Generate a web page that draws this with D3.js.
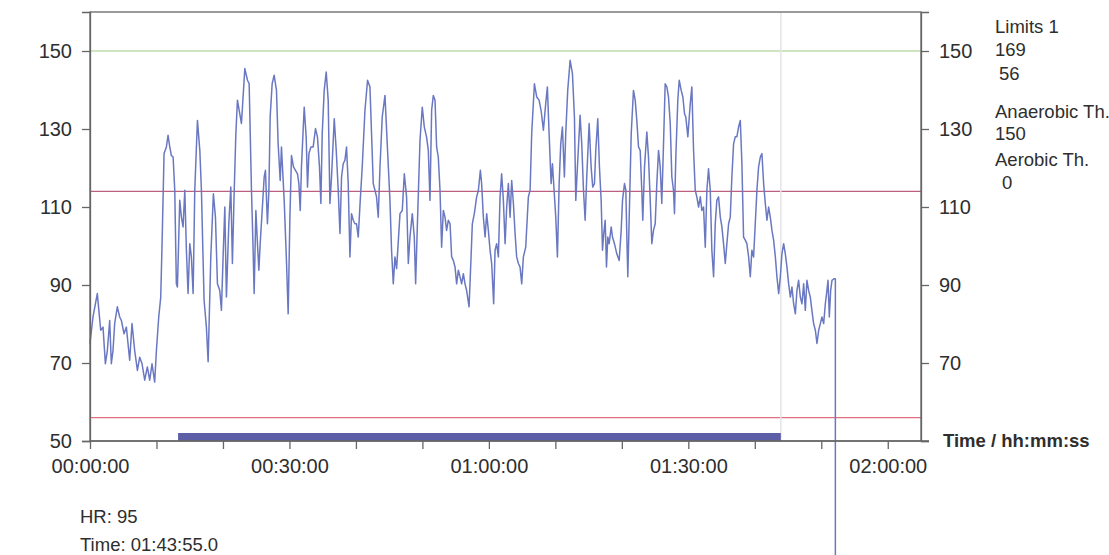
<!DOCTYPE html>
<html>
<head>
<meta charset="utf-8">
<script src="https://cdn.jsdelivr.net/npm/d3@7/dist/d3.min.js"></script>
<style>
  html, body { margin: 0; padding: 0; background: #ffffff; }
  svg { display: block; }
  text { font-family: "Liberation Sans", Arial, sans-serif; fill: #2e2e2e; }
</style>
</head>
<body>
<svg id="chart" width="1109" height="555"></svg>
<script>
// Heart-rate recording: elapsed time (minutes) and heart rate (bpm)
const minutes = [
  0.00,0.45,1.10,1.61,1.96,2.31,2.61,2.96,3.21,3.46,3.71,4.11,4.47,4.72,5.12,5.47,5.97,6.32,6.72,7.13,
  7.48,7.83,8.23,8.63,8.98,9.33,9.73,9.99,10.34,10.64,10.84,11.14,11.49,11.74,12.00,12.24,12.50,12.75,12.99,13.15,
  13.50,13.75,14.00,14.26,14.50,14.75,15.01,15.25,15.51,15.76,16.16,16.52,16.76,17.16,17.51,17.77,18.17,18.56,18.87,19.17,
  19.52,19.77,20.02,20.28,20.52,20.88,21.18,21.42,21.68,21.94,22.18,22.78,23.29,23.69,23.94,24.29,24.54,24.69,24.95,25.19,
  25.40,25.60,25.90,26.20,26.39,26.69,26.91,27.10,27.40,27.70,28.05,28.30,28.61,28.80,29.21,29.55,29.81,30.07,30.31,30.61,
  30.91,31.21,31.42,31.62,31.81,32.22,32.52,32.72,32.93,33.23,33.57,33.92,34.22,34.52,34.73,34.93,35.23,35.53,35.83,36.09,
  36.33,36.74,37.04,37.34,37.60,37.84,38.09,38.35,38.59,38.84,39.10,39.34,39.60,39.85,40.09,40.35,40.65,40.95,41.36,41.75,
  42.11,42.35,42.61,42.86,43.10,43.36,43.62,43.96,44.37,44.76,45.12,45.36,45.62,45.87,46.12,46.63,46.97,47.28,47.62,47.88,
  48.13,48.48,48.78,48.98,49.28,49.64,49.98,50.29,50.63,50.89,51.14,51.39,51.64,51.90,52.14,52.39,52.65,52.89,53.15,53.40,
  53.64,53.90,54.16,54.40,54.65,54.91,55.15,55.41,55.66,55.90,56.16,56.41,56.65,57.02,57.32,57.51,57.81,58.16,58.42,58.72,
  58.91,59.17,59.43,59.67,59.92,60.18,60.42,60.72,60.93,61.17,61.43,61.68,61.92,62.18,62.44,62.68,62.93,63.19,63.43,63.69,
  63.94,64.18,64.44,64.69,64.94,65.19,65.54,65.94,66.20,66.44,66.85,67.20,67.55,67.85,68.20,68.55,68.80,69.06,69.36,69.56,
  69.81,70.06,70.31,70.57,70.81,71.06,71.36,71.56,71.86,72.22,72.57,72.87,73.07,73.37,73.72,73.97,74.23,74.48,74.72,75.08,
  75.38,75.62,75.88,76.08,76.38,76.63,76.89,77.09,77.28,77.49,77.69,77.89,78.09,78.40,78.59,78.89,79.24,79.60,79.90,80.10,
  80.40,80.60,80.80,80.90,81.11,81.41,81.75,82.01,82.25,82.51,82.76,83.00,83.15,83.41,83.76,84.01,84.27,84.51,84.76,85.02,
  85.26,85.52,85.77,86.01,86.27,86.52,86.77,87.02,87.28,87.52,87.77,87.92,88.12,88.42,88.63,88.93,89.18,89.43,89.62,89.93,
  90.29,90.53,90.79,91.04,91.28,91.54,91.80,92.04,92.29,92.55,92.79,93.04,93.30,93.54,93.80,94.05,94.29,94.55,94.81,95.05,
  95.30,95.56,95.80,96.06,96.31,96.55,96.81,97.06,97.30,97.56,97.82,98.06,98.31,98.57,98.81,99.07,99.32,99.56,99.82,100.07,
  100.32,100.57,100.83,101.07,101.33,101.58,101.83,102.08,102.33,102.58,102.83,103.09,103.33,103.59,103.84,104.08,104.34,104.59,104.84,105.09,
  105.35,105.59,105.84,106.10,106.34,106.59,106.85,107.09,107.35,107.60,107.84,108.10,108.35,108.59,108.85,109.11,109.35,109.61,109.86,110.10,
  110.36,110.61,110.85,111.01,111.21,111.41,111.61,111.91,112.12,112.12
];
const hr = [
  75.0,81.8,87.8,78.4,79.2,69.8,73.2,80.9,69.8,73.2,80.1,84.4,81.8,80.9,77.5,79.2,70.7,80.1,73.2,68.1,
  71.5,69.8,65.6,69.0,65.6,69.8,65.1,73.2,81.8,86.9,100.6,123.7,125.4,128.4,125.4,123.2,122.8,114.3,90.3,89.5,
  111.7,107.4,104.9,114.3,98.9,87.8,100.6,97.2,87.8,114.3,132.2,124.5,114.3,86.1,79.2,70.3,97.2,113.4,107.4,90.3,
  88.6,83.5,97.2,110.0,86.9,105.7,115.1,95.5,113.4,128.8,137.4,131.4,145.5,142.5,141.6,114.3,98.9,87.8,109.1,100.6,
  93.8,100.6,109.1,117.7,119.4,105.7,114.3,133.1,141.6,143.8,139.9,126.2,116.8,125.4,111.7,96.3,82.6,107.4,123.2,120.3,
  119.4,118.5,116.0,109.1,120.3,135.6,127.9,115.1,123.7,125.4,125.4,130.1,127.9,120.3,110.9,128.8,139.9,144.6,137.4,110.9,
  117.7,132.6,124.5,114.3,103.2,117.7,121.1,122.0,125.4,116.0,97.2,108.3,106.6,105.7,105.7,102.3,111.7,120.3,134.8,142.5,
  140.8,128.8,116.0,114.3,112.6,107.4,120.3,133.1,138.6,124.5,111.7,98.9,90.3,97.2,94.2,108.3,109.1,118.5,112.6,95.5,
  102.3,108.3,102.3,90.3,107.4,127.1,135.6,130.5,127.9,124.5,111.7,134.8,138.6,137.4,125.4,122.8,114.3,99.7,109.1,107.4,
  104.0,106.6,105.7,97.2,96.3,94.6,90.3,93.8,92.1,90.3,92.9,90.3,88.6,84.4,97.2,105.7,108.3,112.6,114.3,119.4,
  116.0,107.4,102.3,108.3,104.0,98.9,95.5,85.2,98.9,100.6,97.2,112.6,118.5,111.7,100.6,110.0,116.0,107.4,116.8,110.9,
  103.2,97.2,95.5,94.6,90.3,97.2,99.7,112.6,114.3,128.8,141.6,138.2,137.4,134.8,129.7,136.5,140.8,128.8,116.0,121.1,
  114.3,107.4,97.2,116.0,126.2,130.5,117.7,128.8,139.9,147.6,144.2,133.1,111.7,122.0,133.5,126.2,114.3,106.6,117.7,131.4,
  120.3,115.1,116.0,124.5,132.6,120.3,111.7,98.9,103.2,106.6,94.6,102.3,100.6,104.9,102.3,100.6,98.0,96.3,104.0,111.7,
  116.0,114.3,98.9,92.1,107.4,128.8,139.9,137.4,132.2,125.4,124.5,114.3,106.6,120.3,129.2,122.8,111.7,100.6,104.0,105.7,
  116.0,124.5,120.3,110.9,126.2,141.6,140.8,138.2,131.4,117.7,114.3,108.3,122.8,137.4,142.5,139.9,138.2,133.9,133.1,128.0,
  136.5,140.8,124.5,114.3,112.6,110.0,112.6,109.1,110.0,99.7,114.3,119.8,114.3,98.9,92.1,105.7,111.7,112.6,107.4,104.9,
  100.6,95.5,100.6,105.7,107.4,117.7,126.2,128.0,128.0,130.5,132.2,121.1,102.3,101.5,100.6,97.2,92.1,98.9,97.2,105.7,
  114.3,120.3,122.8,123.7,116.0,110.9,106.6,110.0,107.4,104.0,101.5,97.2,92.1,87.8,92.1,98.0,100.6,98.0,94.6,90.3,
  86.9,89.5,85.2,82.6,88.6,91.2,86.9,85.2,90.3,83.5,91.2,88.6,86.9,83.5,80.1,78.4,75.0,78.4,80.1,81.8,
  80.1,85.2,88.6,91.2,81.8,88.6,91.2,91.6,91.6,0
];

// Axis ticks and reference levels
const yTicks = [50, 70, 90, 110, 130, 150];
const xTickMinutes = [0, 10, 20, 30, 40, 50, 60, 70, 80, 90, 100, 110, 120];
const xLabelMinutes = [0, 30, 60, 90, 120];
const anaerobicLevel = 150;
const upperLimit = 114;
const lowerLimit = 56;
const markerStart = 13.25;             // start of the selected range, minutes
const cursorSeconds = 1 * 3600 + 43 * 60 + 55; // 01:43:55.0
const cursorHR = 95;
const sideLabels = [
  {text: "Limits 1", dx: 0, row: 0},
  {text: "169", dx: 0, row: 1},
  {text: "56", dx: 4, row: 2},
  {text: "Anaerobic Th.", dx: 0, row: 3},
  {text: "150", dx: 0, row: 4},
  {text: "Aerobic Th.", dx: 0, row: 5},
  {text: "0", dx: 7, row: 6}
];
const sideRowBaselines = [33, 56, 80, 118, 140, 166, 189];

const svg = d3.select("#chart");
const plotL = 90, plotR = 921, plotT = 12, plotB = 441;
const cursorMinutes = cursorSeconds / 60;

const x = d3.scaleLinear().domain([0, 125]).range([plotL, plotR]);
const y = d3.scaleLinear().domain([50, 160]).range([plotB, plotT]);

const pad2 = v => String(v).padStart(2, "0");
const fmtSec = s => {
  const h = Math.floor(s / 3600), mm = Math.floor((s % 3600) / 60), ss = Math.round(s % 60);
  return `${pad2(h)}:${pad2(mm)}:${pad2(ss)}`;
};

// Reference levels
svg.append("line").attr("x1", plotL).attr("x2", plotR)
  .attr("y1", y(anaerobicLevel)).attr("y2", y(anaerobicLevel))
  .attr("stroke", "#bfdcaa").attr("stroke-width", 1.3);
svg.append("line").attr("x1", plotL).attr("x2", plotR)
  .attr("y1", y(upperLimit)).attr("y2", y(upperLimit))
  .attr("stroke", "#bd5f80").attr("stroke-width", 1.3);
svg.append("line").attr("x1", plotL).attr("x2", plotR)
  .attr("y1", y(lowerLimit)).attr("y2", y(lowerLimit))
  .attr("stroke", "#e0707e").attr("stroke-width", 1.3);

// Cursor line
svg.append("line").attr("x1", x(cursorMinutes)).attr("x2", x(cursorMinutes))
  .attr("y1", plotT).attr("y2", plotB)
  .attr("stroke", "#e4e4ea").attr("stroke-width", 1.5);

// Selected range bar along the time axis
svg.append("rect")
  .attr("x", x(markerStart)).attr("y", plotB - 8)
  .attr("width", x(cursorMinutes) - x(markerStart)).attr("height", 8)
  .attr("fill", "#5c5ea8");

// Heart-rate trace
const pts = minutes.map((m, i) => [m, hr[i]]);
svg.append("path")
  .datum(pts)
  .attr("fill", "none")
  .attr("stroke", "#6a78c2")
  .attr("stroke-width", 1.5)
  .attr("stroke-linejoin", "round")
  .attr("d", d3.line().x(d => x(d[0])).y(d => y(d[1])));

// Frame
svg.append("rect").attr("x", plotL).attr("y", plotT)
  .attr("width", plotR - plotL).attr("height", plotB - plotT)
  .attr("fill", "none").attr("stroke", "#666").attr("stroke-width", 1.3);

// Left axis
const yl = svg.append("g").attr("transform", `translate(${plotL},0)`)
  .call(d3.axisLeft(y).tickValues(yTicks).tickSize(8).tickPadding(10));
// Right axis
const yr = svg.append("g").attr("transform", `translate(${plotR},0)`)
  .call(d3.axisRight(y).tickValues(yTicks).tickSize(8).tickPadding(10)
    .tickFormat(d => d === 50 ? "" : d));
// Bottom axis
const xa = svg.append("g").attr("transform", `translate(0,${plotB})`)
  .call(d3.axisBottom(x).tickValues(xTickMinutes).tickSize(8).tickPadding(10)
    .tickFormat(d => xLabelMinutes.includes(d) ? fmtSec(d * 60) : ""));

[yl, yr, xa].forEach(g => {
  g.select(".domain").attr("stroke", "#666").attr("stroke-width", 1.3);
  g.selectAll(".tick line").attr("stroke", "#666").attr("stroke-width", 1.3);
  g.selectAll(".tick text").style("font-size", "20px").attr("fill", "#2e2e2e")
    .style("font-family", "'Liberation Sans', Arial, sans-serif");
});
xa.select(".domain").attr("d", `M${plotL},0H${plotR + 8}`);

// Axis title
svg.append("text").attr("x", 943).attr("y", 447)
  .style("font-size", "18.5px").style("font-weight", "bold")
  .text("Time / hh:mm:ss");

// Threshold legend at right
svg.append("g").selectAll("text").data(sideLabels).join("text")
  .attr("x", d => 995 + d.dx).attr("y", d => sideRowBaselines[d.row])
  .style("font-size", "18.5px")
  .text(d => d.text);

// Cursor readout
svg.append("text").attr("x", 80).attr("y", 523).style("font-size", "18.5px")
  .text(`HR: ${cursorHR}`);
svg.append("text").attr("x", 80).attr("y", 551).style("font-size", "18.5px")
  .text(`Time: ${fmtSec(cursorSeconds)}.0`);
</script>
</body>
</html>
